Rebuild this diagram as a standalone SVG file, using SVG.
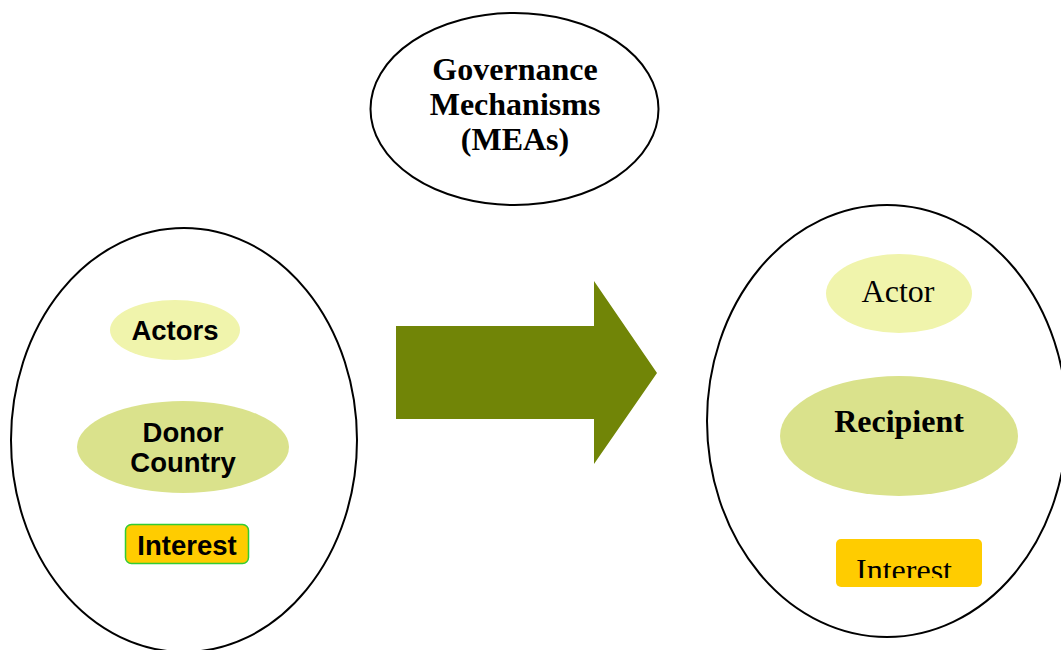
<svg xmlns="http://www.w3.org/2000/svg" width="1061" height="650" viewBox="0 0 1061 650">
<style>
.outer{fill:#fff;stroke:#000;stroke-width:2}
.light{fill:#F0F4AC}
.mid{fill:#DAE28C}
.sans{font-family:"Liberation Sans",Arial,sans-serif;font-weight:bold;font-size:27.5px;fill:#000;text-anchor:middle}
.serif{font-family:"Liberation Serif","Times New Roman",serif;font-size:32px;fill:#000;text-anchor:middle}
.b{font-weight:bold}
</style>
<defs>
<clipPath id="clipInt"><rect x="836" y="539" width="146" height="39"/></clipPath>
</defs>
<rect width="1061" height="650" fill="#fff"/>
<g id="governance">
<ellipse class="outer" cx="514.5" cy="109" rx="144" ry="96"/>
<text class="serif b" x="515" y="80">Governance</text>
<text class="serif b" x="515" y="115">Mechanisms</text>
<text class="serif b" x="515" y="150">(MEAs)</text>
</g>
<g id="donor-group">
<ellipse class="outer" cx="184" cy="440" rx="173" ry="212"/>
</g>
<g id="actors">
<ellipse class="light" cx="175" cy="330" rx="65" ry="30"/>
<text class="sans" x="175" y="340">Actors</text>
</g>
<g id="donor-country">
<ellipse class="mid" cx="183" cy="447" rx="106" ry="46"/>
<text class="sans" x="183" y="442">Donor</text>
<text class="sans" x="183" y="472">Country</text>
</g>
<g id="interest-left">
<rect x="125.5" y="524.5" width="123" height="39" rx="6" fill="#FFCC00" stroke="#33CC33" stroke-width="1.5"/>
<text class="sans" x="187" y="555">Interest</text>
</g>
<g id="connectors">
<polygon points="396,326 594,326 594,281 657,373 594,464 594,419 396,419" fill="#718507"/>
</g>
<g id="recipient-group">
<ellipse class="outer" cx="887" cy="421" rx="180" ry="216"/>
</g>
<g id="actor">
<ellipse class="light" cx="899" cy="293.5" rx="73" ry="39.5"/>
<text class="serif" x="898" y="302">Actor</text>
</g>
<g id="recipient">
<ellipse class="mid" cx="899" cy="436" rx="119" ry="60"/>
<text class="serif b" x="899" y="432">Recipient</text>
</g>
<g id="interest-right">
<rect x="836" y="539" width="146" height="48" rx="5" fill="#FFCC00"/>
<text class="serif" x="904" y="581" clip-path="url(#clipInt)">Interest</text>
</g>
</svg>
